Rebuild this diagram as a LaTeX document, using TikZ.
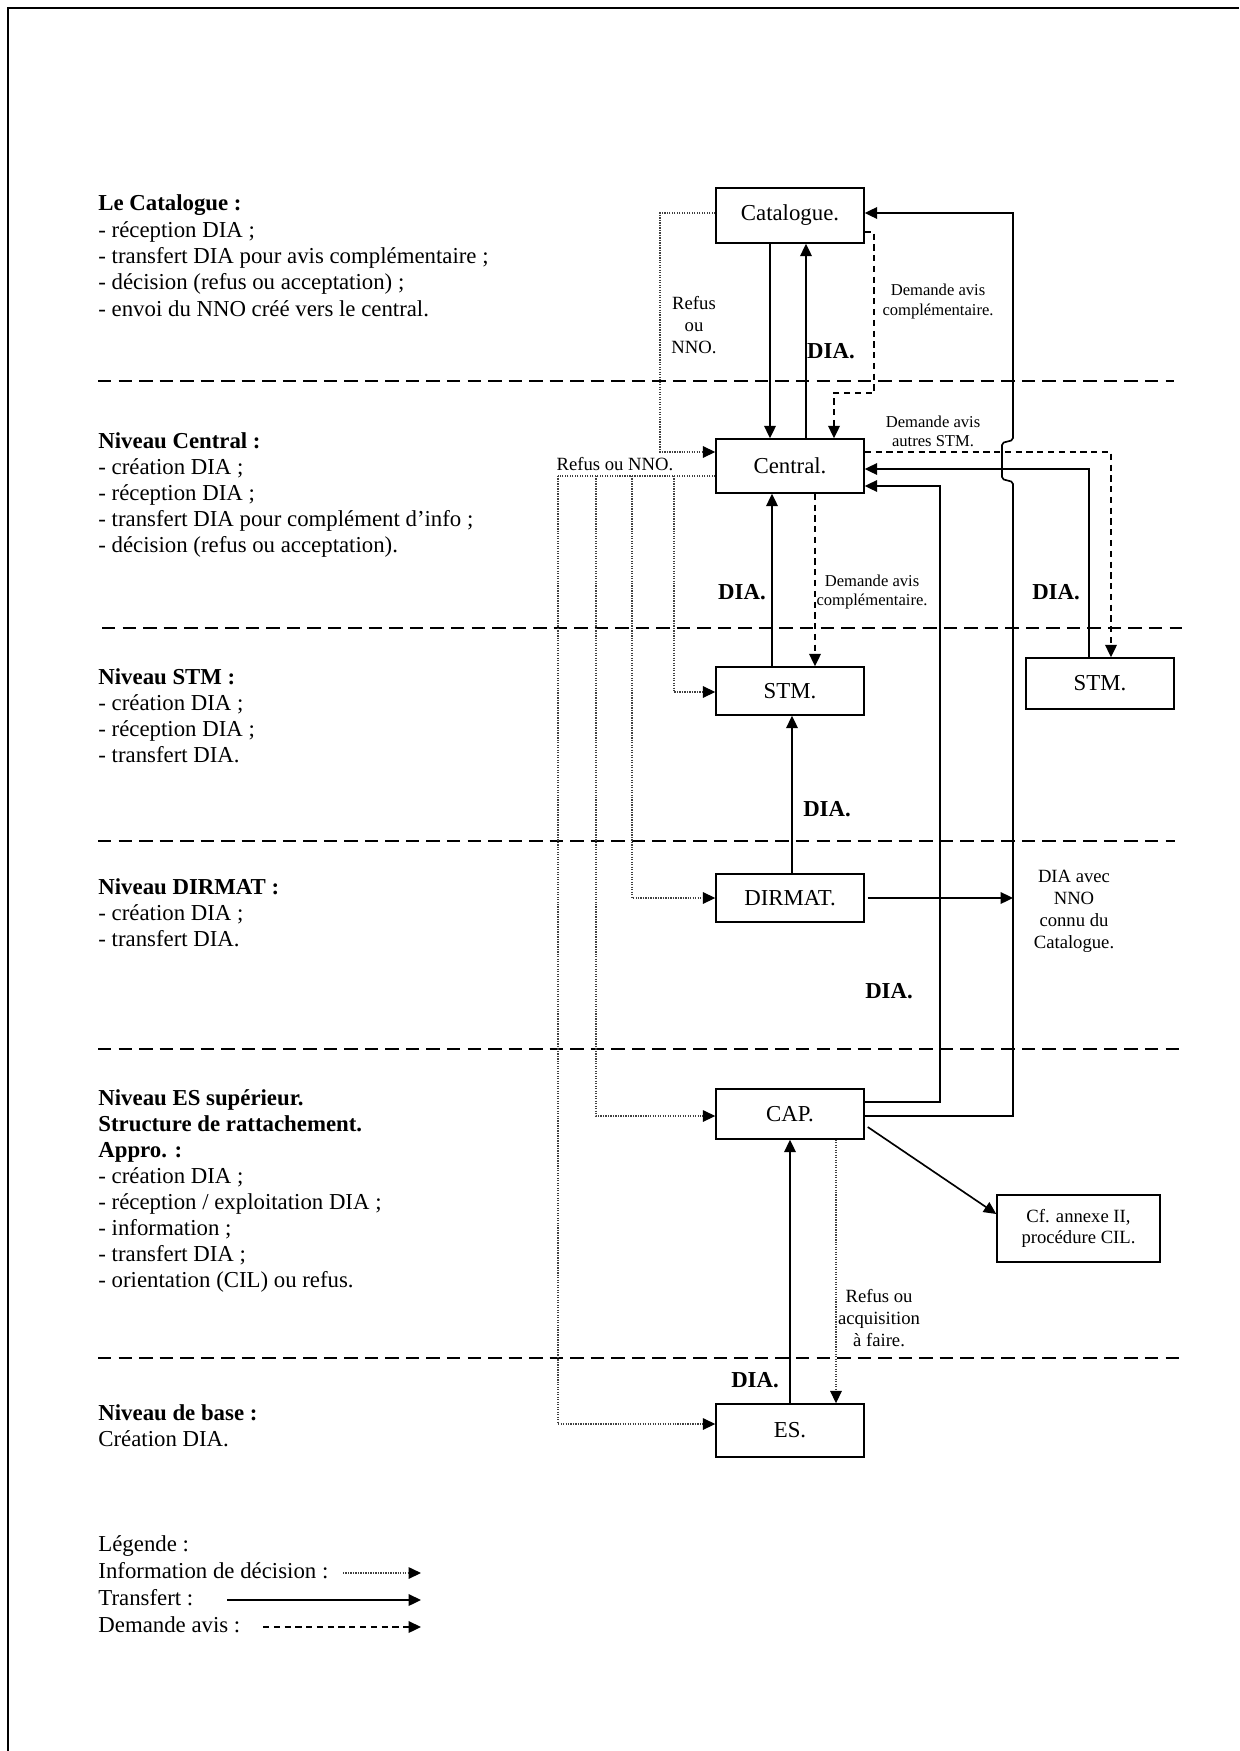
\documentclass[tikz,border=0pt]{standalone}
\usepackage{fontspec}
\setmainfont{Liberation Serif}
\usetikzlibrary{arrows.meta}
\newcommand\pxu{0.169492mm}
\begin{document}
\begin{tikzpicture}[x=0.169492mm,y=-0.169492mm,
  box/.style={draw,line width=0.7pt,inner sep=0pt,minimum width=148*\pxu,font=\fontsize{11}{12.7}\selectfont},
  tip/.style={-{Triangle[length=6pt,width=5.6pt,color=black]}},
  tr/.style={line width=0.8pt,tip},
  dem/.style={line width=0.8pt,dash pattern=on 3pt off 2.2pt,tip},
  inf/.style={line width=0.55pt,black!75,dash pattern=on 0.6pt off 0.6pt,tip},
  infl/.style={line width=0.55pt,black!75,dash pattern=on 0.6pt off 0.6pt},
  sep/.style={line width=0.6pt,dash pattern=on 6.5pt off 3.4pt},
  lbl/.style={inner sep=0pt,align=center,font=\fontsize{9}{10.5}\selectfont},
  slbl/.style={inner sep=0pt,align=center,font=\fontsize{8}{9.2}\selectfont},
  dia/.style={inner sep=0pt,font=\fontsize{11}{12.7}\selectfont\bfseries},
  txt/.style={inner sep=0pt,anchor=base west,font=\fontsize{11}{12.7}\selectfont}]
\useasboundingbox (0,0) rectangle (1239,1751);
% page frame
\draw[line width=1.1pt] (8,1751) -- (8,8) -- (1239,8);

% level separators
\draw[sep] (98,381) -- (1174,381);
\draw[sep] (102,628) -- (1182,628);
\draw[sep] (98,841) -- (1175,841);
\draw[sep] (98,1049) -- (1182,1049);
\draw[sep] (98,1358) -- (1182,1358);

% left texts
\foreach \t [count=\i from 0] in {{\textbf{Le Catalogue :}},{- réception DIA ;},{- transfert DIA pour avis complémentaire ;},{- décision (refus ou acceptation) ;},{- envoi du NNO créé vers le central.}}
  \node[txt] (lc\i) at (98,211+26.3*\i) {\t};
\foreach \t [count=\i from 0] in {{\textbf{Niveau Central :}},{- création DIA ;},{- réception DIA ;},{- transfert DIA pour complément d’info ;},{- décision (refus ou acceptation).}}
  \node[txt] (lcn\i) at (98,448+26.1*\i) {\t};
\foreach \t [count=\i from 0] in {{\textbf{Niveau STM :}},{- création DIA ;},{- réception DIA ;},{- transfert DIA.}}
  \node[txt] (ls\i) at (98,684+26.3*\i) {\t};
\foreach \t [count=\i from 0] in {{\textbf{Niveau DIRMAT :}},{- création DIA ;},{- transfert DIA.}}
  \node[txt] (ld\i) at (98,894+26.3*\i) {\t};
\foreach \t [count=\i from 0] in {{\textbf{Niveau ES supérieur.}},{\textbf{Structure de rattachement.}},{\textbf{Appro. :}},{- création DIA ;},{- réception / exploitation DIA ;},{- information ;},{- transfert DIA ;},{- orientation (CIL) ou refus.}}
  \node[txt] (le\i) at (98,1105+26.0*\i) {\t};
\foreach \t [count=\i from 0] in {{\textbf{Niveau de base :}},{Création DIA.}}
  \node[txt] (lb\i) at (98,1420+26.3*\i) {\t};

% legend
\node[txt] (lg0) at (98,1551) {Légende :};
\node[txt] (lg1) at (98,1578) {Information de décision :};
\node[txt] (lg2) at (98,1605) {Transfert :};
\node[txt] (lg3) at (98,1632) {Demande avis :};
\coordinate (lga) at (343,1573);
\coordinate (lgb) at (421,1573);
\coordinate (lgc) at (227,1600);
\coordinate (lgd) at (421,1600);
\coordinate (lge) at (263,1627);
\coordinate (lgf) at (421,1627);
\draw[inf] (lga) -- (lgb);
\draw[tr] (lgc) -- (lgd);
\draw[dem] (lge) -- (lgf);

% boxes
\node[box,minimum height=55*\pxu] (cat) at (790,215.5) {Catalogue.};
\node[box,minimum height=54*\pxu] (cen) at (790,466) {Central.};
\node[box,minimum height=48*\pxu] (stm) at (790,691) {STM.};
\node[box,minimum height=51*\pxu] (stm2) at (1100,683.5) {STM.};
\node[box,minimum height=48*\pxu] (dir) at (790,898) {DIRMAT.};
\node[box,minimum height=50*\pxu] (cap) at (790,1114) {CAP.};
\node[box,minimum height=53*\pxu] (es) at (790,1430.5) {ES.};
\node[box,minimum width=163*\pxu,minimum height=67*\pxu,align=center,font=\fontsize{9}{10.5}\selectfont] (cf) at (1078.5,1228.5) {Cf. annexe II,\\procédure CIL.};

% Catalogue <-> Central
\draw[tr] (cat.south -| 770,0) -- (cen.north -| 770,0);
\draw[tr] (cen.north -| 806,0) -- (cat.south -| 806,0);
\draw[dem] (cat.east |- 0,232) -- (874,232) -- (874,393) -- (834,393) -- (cen.north -| 834,0);
\draw[inf] (cat.west |- 0,213) -- (660,213) -- (660,452) -- (cen.west |- 0,452);

% CAP -> Catalogue (with bridge)
\draw[tr] (cap.east |- 0,1116) -- (1013,1116) -- (1013,484)
  .. controls (1013,479) and (1002,482) .. (1002,477) -- (1002,445)
  .. controls (1002,440) and (1013,443) .. (1013,438) -- (1013,213) -- (cat.east |- 0,213);
% CAP -> Central
\draw[tr] (cap.east |- 0,1102) -- (940,1102) -- (940,486) -- (cen.east |- 0,486);
% STM right -> Central
\draw[tr] (stm2.north -| 1089,0) -- (1089,469) -- (cen.east |- 0,469);
% Central -> STM right (demande avis)
\draw[dem] (cen.east |- 0,452) -- (1111,452) -- (stm2.north -| 1111,0);
% Central <-> STM
\draw[dem] (cen.south -| 815,0) -- (stm.north -| 815,0);
\draw[tr] (stm.north -| 772,0) -- (cen.south -| 772,0);
% DIRMAT -> STM
\draw[tr] (dir.north -| 792,0) -- (stm.south -| 792,0);
% DIRMAT -> right
\coordinate (dirend) at (1013,898);
\draw[tr] ([xshift=3*\pxu]dir.east) -- (dirend);
% ES -> CAP
\draw[tr] (es.north -| 790,0) -- (cap.south -| 790,0);
\draw[inf] (cap.south -| 836,0) -- (es.north -| 836,0);
% CAP -> Cf
\draw[tr] ([xshift=3*\pxu]cap.east |- 0,1127) -- (cf.west |- 0,1214);

% Central -> lower levels (information de decision)
\coordinate (ia) at (674,476);
\coordinate (ib) at (632,476);
\coordinate (ic) at (596,476);
\draw[infl] (cen.west |- 0,476) -- (558,476);
\draw[inf] (558,476) -- (558,1424) -- (es.west |- 0,1424);
\draw[inf] (ia) -- (674,692) -- (stm.west |- 0,692);
\draw[inf] (ib) -- (632,898) -- (dir.west);
\draw[inf] (ic) -- (596,1116) -- (cap.west |- 0,1116);

% labels
\node[lbl] (l1) at (694,325) {Refus\\ou\\NNO.};
\node[slbl] (l2) at (938,301.5) {Demande avis\\complémentaire.};
\node[slbl] (l3) at (933,431.5) {Demande avis\\autres STM.};
\node[slbl] (l4) at (872,592) {Demande avis\\complémentaire.};
\node[lbl] (l5) at (615,464) {Refus ou NNO.};
\node[lbl] (l6) at (1074,911.5) {DIA avec\\NNO\\connu du\\Catalogue.};
\node[lbl] (l7) at (879,1318) {Refus ou\\acquisition\\à faire.};
\node[dia] (d1) at (831,351) {DIA.};
\node[dia] (d2) at (742,592) {DIA.};
\node[dia] (d3) at (1056,592) {DIA.};
\node[dia] (d4) at (827,809) {DIA.};
\node[dia] (d5) at (889,991) {DIA.};
\node[dia] (d6) at (755,1380) {DIA.};
\end{tikzpicture}
\end{document}
